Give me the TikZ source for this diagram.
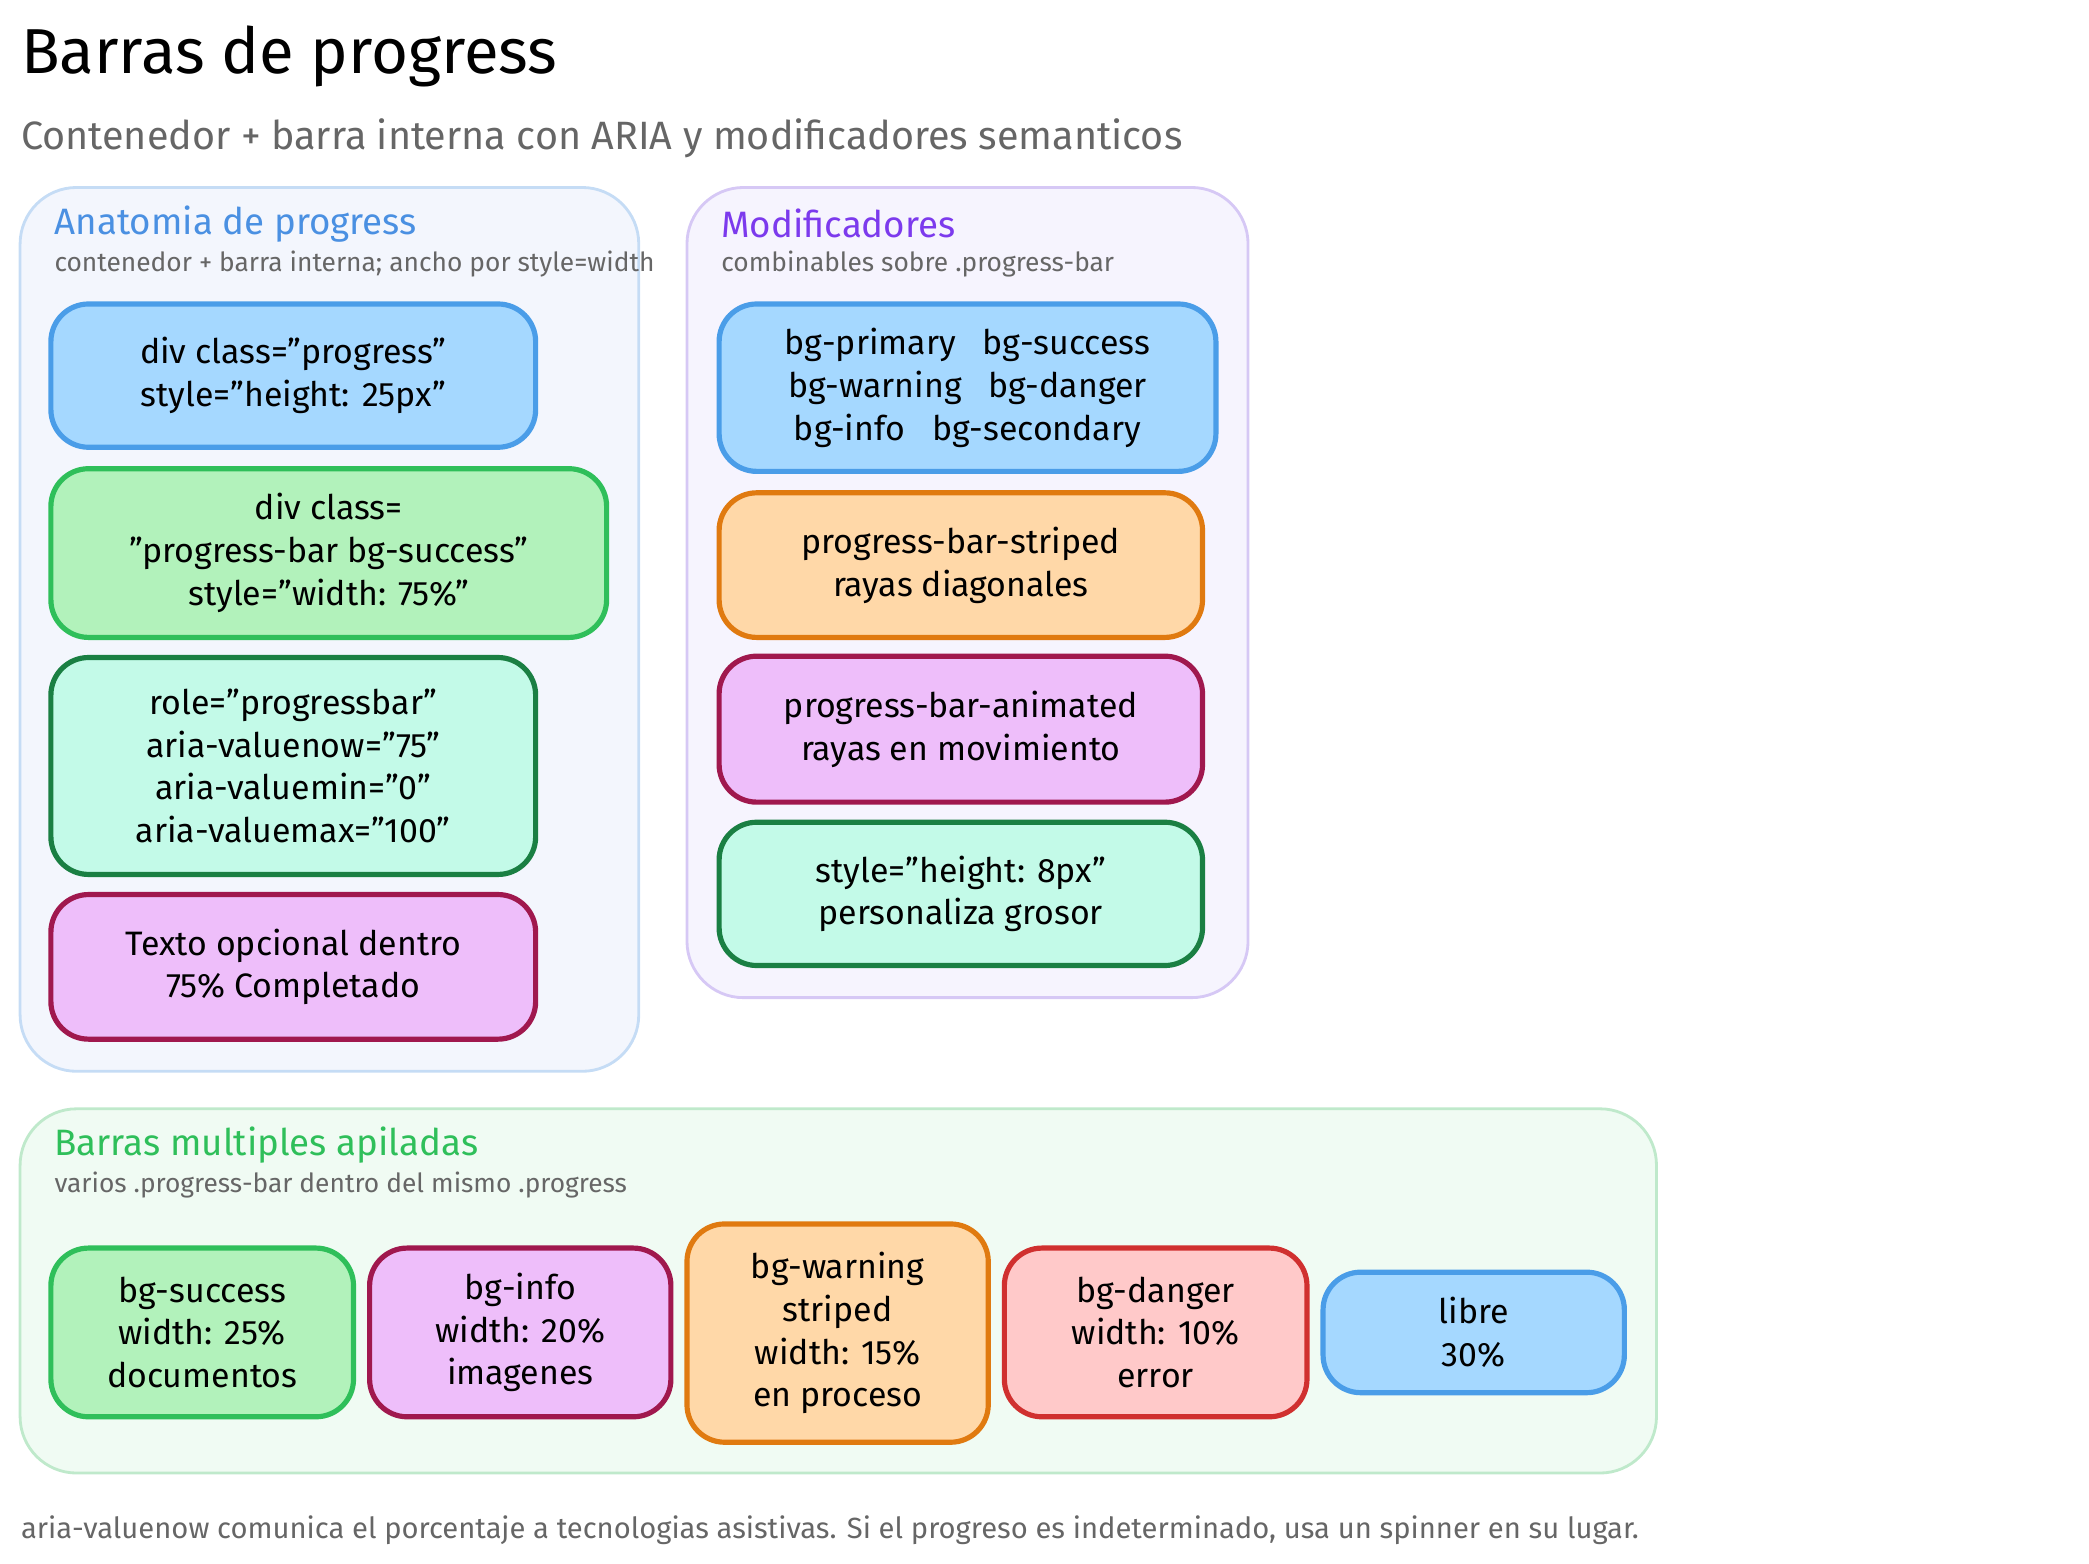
\documentclass[tikz,border=0pt]{standalone}
\usepackage{fontspec}
\setmainfont{Fira Sans}[Ligatures=ResetAll]
\usetikzlibrary{positioning}
\definecolor{bluef}{HTML}{A5D8FF}\definecolor{blued}{HTML}{4A9DE8}
\definecolor{greenf}{HTML}{B2F2BB}\definecolor{greend}{HTML}{2FBF5A}
\definecolor{tealf}{HTML}{C3FAE8}\definecolor{teald}{HTML}{1A7F43}
\definecolor{pinkf}{HTML}{EEBEFA}\definecolor{pinkd}{HTML}{A0184E}
\definecolor{orangef}{HTML}{FFD8A8}\definecolor{oranged}{HTML}{E07A10}
\definecolor{redf}{HTML}{FFC9C9}\definecolor{redd}{HTML}{D0302F}
\definecolor{txtgrey}{HTML}{666666}
\tikzset{
  card/.style={draw, line width=1.1pt, rounded corners=8pt, align=center,
    font=\fontsize{7.2}{9.1}\selectfont, inner sep=0pt},
  bluebox/.style={card, fill=bluef, draw=blued},
  greenbox/.style={card, fill=greenf, draw=greend},
  tealbox/.style={card, fill=tealf, draw=teald},
  pinkbox/.style={card, fill=pinkf, draw=pinkd},
  orangebox/.style={card, fill=orangef, draw=oranged},
  redbox/.style={card, fill=redf, draw=redd},
  panel/.style={line width=0.6pt, rounded corners=12pt},
  ptitle/.style={anchor=west, inner sep=0pt, font=\fontsize{7.8}{9}\selectfont},
  psub/.style={anchor=west, inner sep=0pt, text=txtgrey, font=\fontsize{5.6}{7}\selectfont},
}
\begin{document}
\begin{tikzpicture}
  \useasboundingbox (0,0) rectangle (15.6,-11.672);

  % heading
  \node[anchor=west, inner sep=0pt, font=\fontsize{13.5}{15}\selectfont] (title) at (0.15,-0.42) {Barras de progress};
  \node[anchor=west, inner sep=0pt, text=txtgrey, font=\fontsize{8.4}{10}\selectfont] (subtitle) at (0.15,-1.03) {Contenedor + barra interna con ARIA y modificadores semanticos};

  % panels
  \draw[panel, fill={rgb,255:red,243;green,246;blue,253}, draw={rgb,255:red,197;green,220;blue,245}] (0.15,-1.40) rectangle (4.77,-8.00);
  \draw[panel, fill={rgb,255:red,246;green,244;blue,254}, draw={rgb,255:red,214;green,200;blue,245}] (5.13,-1.40) rectangle (9.32,-7.45);
  \draw[panel, fill={rgb,255:red,240;green,251;blue,243}, draw={rgb,255:red,191;green,233;blue,203}] (0.15,-8.28) rectangle (12.37,-11.00);

  % anatomia
  \node[ptitle, text={rgb,255:red,74;green,144;blue,226}] (anatTitle) at (0.40,-1.67) {Anatomia de progress};
  \node[psub] (anatSub) at (0.40,-1.97) {contenedor + barra interna; ancho por style=width};
  \node[bluebox, minimum width=3.62cm, minimum height=1.07cm] (container) at (2.19,-2.805) {div class="progress"\\style="height: 25px"};
  \node[greenbox, minimum width=4.15cm, minimum height=1.26cm] (bar) at (2.455,-4.13) {div class=\\"progress-bar bg-success"\\style="width: 75\%"};
  \node[tealbox, minimum width=3.62cm, minimum height=1.62cm] (aria) at (2.19,-5.72) {role="progressbar"\\aria-valuenow="75"\\aria-valuemin="0"\\aria-valuemax="100"};
  \node[pinkbox, minimum width=3.62cm, minimum height=1.08cm] (label) at (2.19,-7.22) {Texto opcional dentro\\75\% Completado};

  % modificadores
  \node[ptitle, text={rgb,255:red,124;green,58;blue,237}] (modTitle) at (5.38,-1.67) {Modificadores};
  \node[psub] (modSub) at (5.38,-1.97) {combinables sobre .progress-bar};
  \node[bluebox, minimum width=3.71cm, minimum height=1.25cm] (colors) at (7.225,-2.895) {bg-primary~~~bg-success\\bg-warning~~~bg-danger\\bg-info~~~bg-secondary};
  \node[orangebox, minimum width=3.61cm, minimum height=1.08cm] (striped) at (7.175,-4.22) {progress-bar-striped\\rayas diagonales};
  \node[pinkbox, minimum width=3.61cm, minimum height=1.09cm] (animated) at (7.175,-5.445) {progress-bar-animated\\rayas en movimiento};
  \node[tealbox, minimum width=3.61cm, minimum height=1.07cm] (height) at (7.175,-6.675) {style="height: 8px"\\personaliza grosor};

  % apiladas
  \node[ptitle, text={rgb,255:red,47;green,191;blue,90}] (stackTitle) at (0.40,-8.55) {Barras multiples apiladas};
  \node[psub] (stackSub) at (0.40,-8.85) {varios .progress-bar dentro del mismo .progress};
  \node[greenbox, minimum width=2.26cm, minimum height=1.26cm] (docs) at (1.51,-9.95) {bg-success\\width: 25\%\\documentos};
  \node[pinkbox, minimum width=2.25cm, minimum height=1.26cm] (imgs) at (3.885,-9.95) {bg-info\\width: 20\%\\imagenes};
  \node[orangebox, minimum width=2.25cm, minimum height=1.63cm] (proc) at (6.255,-9.955) {bg-warning\\striped\\width: 15\%\\en proceso};
  \node[redbox, minimum width=2.26cm, minimum height=1.26cm] (err) at (8.63,-9.95) {bg-danger\\width: 10\%\\error};
  \node[bluebox, minimum width=2.25cm, minimum height=0.90cm] (free) at (11.005,-9.95) {libre\\30\%};

  % footer
  \node[anchor=west, inner sep=0pt, text=txtgrey, font=\fontsize{6.2}{7}\selectfont] (footer) at (0.15,-11.43) {aria-valuenow comunica el porcentaje a tecnologias asistivas. Si el progreso es indeterminado, usa un spinner en su lugar.};
\end{tikzpicture}
\end{document}
